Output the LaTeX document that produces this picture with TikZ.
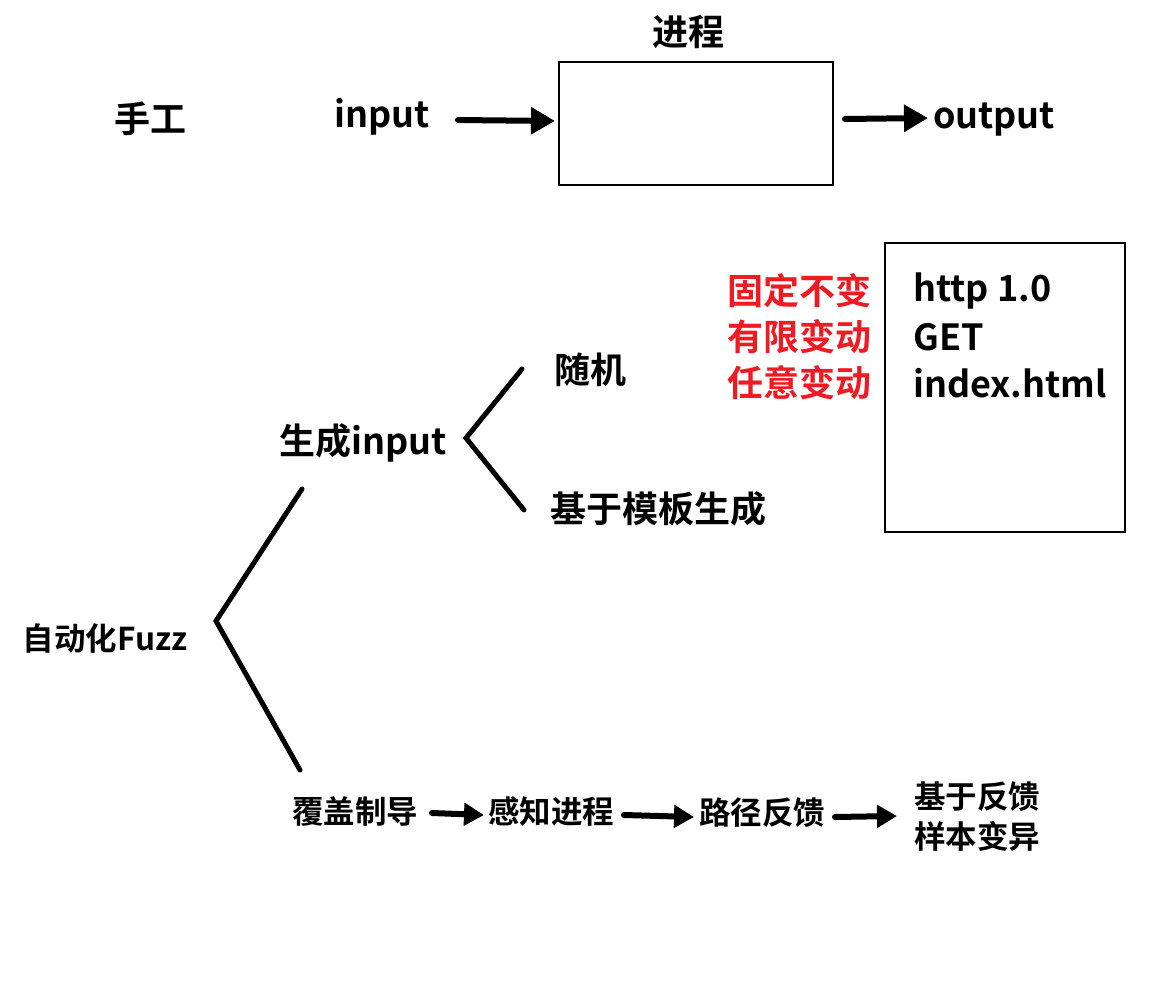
\documentclass[tikz,border=0pt]{standalone}
\usepackage{fontspec}
\setmainfont{Noto Sans CJK SC}[BoldFont={Noto Sans CJK SC Bold}]
\usetikzlibrary{arrows.meta}
\definecolor{myred}{RGB}{237,28,36}
\begin{document}
\begin{tikzpicture}[x=1pt,y=-1pt,
  txt/.style={inner sep=0pt,font=\bfseries\fontsize{36}{46}\selectfont},
  small/.style={inner sep=0pt,font=\bfseries\fontsize{31.5}{40}\selectfont},
  boxst/.style={draw,line width=2.5pt,inner sep=0pt},
  arr/.style={line width=6pt,line cap=round,-{Triangle[length=24pt,width=26pt]}},
  sarr/.style={line width=6pt,line cap=round,-{Triangle[length=20pt,width=22pt]}},
  brk/.style={line width=5pt,line cap=round,line join=miter}]
\useasboundingbox (0,0) rectangle (1149,983);
% top row
\node[txt] (hand) at (150,119) {手工};
\node[txt] (in) at (382,117) {input};
\node[boxst,minimum width=274pt,minimum height=123pt] (proc) at (696,123.5) {};
\node[txt] (proclbl) at (688,32) {进程};
\node[txt] (out) at (994,120) {output};
\coordinate (a1s) at (458,120);
\coordinate (a1e) at (555,121);
\draw[arr] (a1s) -- (a1e);
\coordinate (a2s) at (845,119);
\coordinate (a2e) at (928,118);
\draw[arr] (a2s) -- (a2e);
% http box
\node[boxst,minimum width=240pt,minimum height=289pt] (hbox) at (1005,387.5) {};
\node[txt,anchor=west] (h1) at (913,291) {http 1.0};
\node[txt,anchor=west] (h2) at (913,337) {GET};
\node[txt,anchor=west] (h3) at (913,383) {index.html};
\node[txt,anchor=east,text=myred] (r1) at (872,291) {固定不变};
\node[txt,anchor=east,text=myred] (r2) at (872,337) {有限变动};
\node[txt,anchor=east,text=myred] (r3) at (872,383) {任意变动};
% generation branch
\node[txt] (rand) at (590,370) {随机};
\node[txt] (tmpl) at (658,509) {基于模板生成};
\node[txt] (gen) at (363,443) {生成input};
\coordinate (b1a) at (522,369);
\coordinate (b1v) at (466,438);
\coordinate (b1b) at (524,510);
\draw[brk] (b1a) -- (b1v) -- (b1b);
\node[small] (auto) at (105,638) {自动化Fuzz};
\coordinate (b2a) at (302,489);
\coordinate (b2v) at (216,621);
\coordinate (b2b) at (300,770);
\draw[brk] (b2a) -- (b2v) -- (b2b);
% bottom row
\node[small] (cov) at (355,811) {覆盖制导};
\node[small] (sense) at (551,811) {感知进程};
\node[small] (path) at (762,813) {路径反馈};
\node[small,align=left,anchor=west] (mut) at (914,817) {基于反馈\\样本变异};
\coordinate (c1s) at (432,813);
\coordinate (c1e) at (484,815);
\coordinate (c2s) at (624,815);
\coordinate (c2e) at (694,817);
\coordinate (c3s) at (835,817);
\coordinate (c3e) at (897,816);
\draw[sarr] (c1s) -- (c1e);
\draw[sarr] (c2s) -- (c2e);
\draw[sarr] (c3s) -- (c3e);
\end{tikzpicture}
\end{document}
